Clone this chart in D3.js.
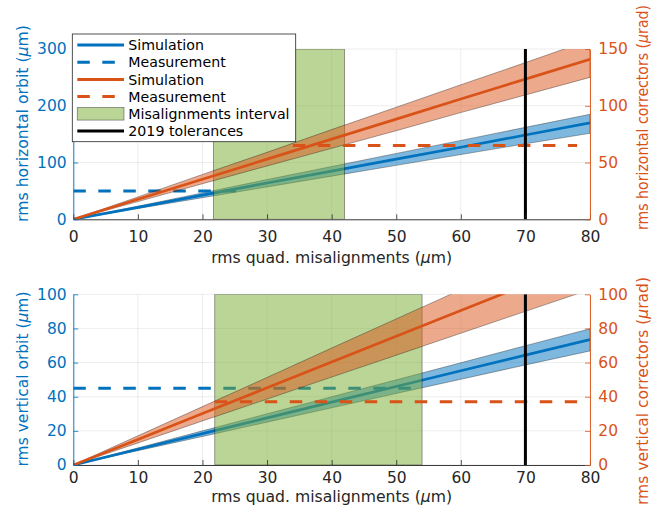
<!DOCTYPE html>
<html>
<head>
<meta charset="utf-8">
<script src="https://cdn.jsdelivr.net/npm/d3@7"></script>
<style>
  body { margin: 0; background: #fff; }
  svg text { font-family: "DejaVu Sans", sans-serif; }
</style>
</head>
<body>
<svg id="chart" width="662" height="512"></svg>
<script>
// Quadrupole misalignment levels (µm)
const misalign = [0, 10, 20, 30, 40, 50, 60, 70, 80];

// Horizontal plane: orbit (µm) and corrector strength (µrad)
const hOrbitSim  = [0, 21, 42.5, 64, 85, 106, 127, 148.5, 170];
const hOrbitLow  = [0, 19, 38, 57, 76, 95, 114, 133, 151.5];
const hOrbitHigh = [0, 23, 46.5, 70, 93, 116, 139, 162, 185];
const hCorrSim   = [0, 17.6, 35.3, 53, 70.6, 88.2, 106, 123.5, 141];
const hCorrLow   = [0, 15.6, 31.3, 47, 62.5, 78, 94, 109.5, 125];
const hCorrHigh  = [0, 19.7, 39.5, 59, 79, 98.7, 118.5, 138, 158];
const hOrbitMeas = { value: 50, from: 0, to: 26.5 };
const hCorrMeas  = { value: 65, from: 34, to: 78 };
const hInterval  = [21.7, 42];

// Vertical plane
const vOrbitSim  = [0, 9.2, 18.4, 27.6, 36.8, 46, 55.2, 64.4, 73.5];
const vOrbitLow  = [0, 8.4, 16.7, 25.1, 33.5, 41.9, 50.2, 58.6, 66.8];
const vOrbitHigh = [0, 10, 20, 30, 40, 49.9, 59.9, 69.9, 79.8];
const vCorrSim   = [0, 15, 30.1, 45.2, 60.3, 75.4, 90.5, 105.5, 120.6];
const vCorrLow   = [0, 12.9, 25.8, 38.6, 51.5, 64.3, 77.2, 90, 102.8];
const vCorrHigh  = [0, 17.1, 34.2, 51.3, 68.5, 85.6, 102.7, 119.8, 137];
const vOrbitMeas = { value: 45, from: 0, to: 52.4 };
const vCorrMeas  = { value: 37, from: 21.9, to: 78 };
const vInterval  = [21.9, 54];

// 2019 alignment tolerance (µm)
const tolerance = 70;

// Tick labels
const xTicks      = [0, 10, 20, 30, 40, 50, 60, 70, 80];
const hOrbitTicks = [0, 100, 200, 300];
const hCorrTicks  = [0, 50, 100, 150];
const vOrbitTicks = [0, 20, 40, 60, 80, 100];
const vCorrTicks  = [0, 20, 40, 60, 80, 100];

const legendLabels = ["Simulation", "Measurement", "Simulation", "Measurement",
                      "Misalignments interval", "2019 tolerances"];

const BLUE = "#0072BD", ORANGE = "#D95319", GREEN = "#77AC30", AXIS = "#262626";
const svg = d3.select("#chart");
const X0 = 73.3, X1 = 590;

function rows(lo, mid, hi) {
  return misalign.map((m, i) => ({ m, lo: lo[i], mid: mid[i], hi: hi[i] }));
}

function muLabel(sel, before, after) {
  sel.append("tspan").text(before);
  sel.append("tspan").attr("font-style", "italic").text("μ");
  sel.append("tspan").text(after);
}

const panels = [
  {
    id: "h", top: 49, bottom: 219.3,
    leftMax: 300, rightMax: 150, leftTicks: hOrbitTicks, rightTicks: hCorrTicks,
    orbit: rows(hOrbitLow, hOrbitSim, hOrbitHigh),
    corr: rows(hCorrLow, hCorrSim, hCorrHigh),
    orbitMeas: hOrbitMeas, corrMeas: hCorrMeas, interval: hInterval,
    xPad: 11.4, xLabelY: 263,
    leftLabel: ["rms horizontal orbit (", "m)"], leftLabelY: 123.5, leftLabelLen: 197,
    rightLabel: ["rms horizontal correctors (", "rad)"], rightLabelY: 117.5, rightLabelLen: 225,
    legend: true
  },
  {
    id: "v", top: 294.3, bottom: 465,
    leftMax: 100, rightMax: 100, leftTicks: vOrbitTicks, rightTicks: vCorrTicks,
    orbit: rows(vOrbitLow, vOrbitSim, vOrbitHigh),
    corr: rows(vCorrLow, vCorrSim, vCorrHigh),
    orbitMeas: vOrbitMeas, corrMeas: vCorrMeas, interval: vInterval,
    xPad: 7.3, xLabelY: 502,
    leftLabel: ["rms vertical orbit (", "m)"], leftLabelY: 379, leftLabelLen: 175,
    rightLabel: ["rms vertical correctors (", "rad)"], rightLabelY: 391, rightLabelLen: 228,
    legend: false
  }
];

panels.forEach(p => {
  const x = d3.scaleLinear([0, 80], [X0, X1]);
  const yL = d3.scaleLinear([0, p.leftMax], [p.bottom, p.top]);
  const yR = d3.scaleLinear([0, p.rightMax], [p.bottom, p.top]);
  const g = svg.append("g");

  g.append("clipPath").attr("id", "clip-" + p.id)
    .append("rect").attr("x", X0).attr("y", p.top)
    .attr("width", X1 - X0).attr("height", p.bottom - p.top);

  // Grid
  const grid = g.append("g").attr("stroke", "#000").attr("stroke-opacity", 0.12).attr("stroke-width", 0.6);
  grid.selectAll("line.gx").data(xTicks).join("line")
    .attr("x1", d => x(d)).attr("x2", d => x(d)).attr("y1", p.top).attr("y2", p.bottom);
  grid.selectAll("line.gy").data(p.leftTicks).join("line")
    .attr("x1", X0).attr("x2", X1).attr("y1", d => yL(d)).attr("y2", d => yL(d));

  const plot = g.append("g").attr("clip-path", `url(#clip-${p.id})`);

  const band = (y) => d3.area().x(d => x(d.m)).y0(d => y(d.lo)).y1(d => y(d.hi));
  const mid = (y) => d3.line().x(d => x(d.m)).y(d => y(d.mid));

  // Left axis layer: orbit
  plot.append("path").datum(p.orbit).attr("d", band(yL))
    .attr("fill", BLUE).attr("fill-opacity", 0.5)
    .attr("stroke", "#000").attr("stroke-opacity", 0.55).attr("stroke-width", 0.6);
  plot.append("path").datum(p.orbit).attr("d", mid(yL))
    .attr("fill", "none").attr("stroke", BLUE).attr("stroke-width", 2.7);
  plot.append("line")
    .attr("x1", x(p.orbitMeas.from)).attr("x2", x(p.orbitMeas.to))
    .attr("y1", yL(p.orbitMeas.value)).attr("y2", yL(p.orbitMeas.value))
    .attr("stroke", BLUE).attr("stroke-width", 3).attr("stroke-dasharray", "12.5,12.5");
  plot.append("rect")
    .attr("x", x(p.interval[0])).attr("width", x(p.interval[1]) - x(p.interval[0]))
    .attr("y", yL(p.leftMax)).attr("height", yL(0) - yL(p.leftMax))
    .attr("fill", GREEN).attr("fill-opacity", 0.5)
    .attr("stroke", "#000").attr("stroke-opacity", 0.45).attr("stroke-width", 0.8);

  // Right axis layer: correctors
  plot.append("path").datum(p.corr).attr("d", band(yR))
    .attr("fill", ORANGE).attr("fill-opacity", 0.5)
    .attr("stroke", "#000").attr("stroke-opacity", 0.55).attr("stroke-width", 0.6);
  plot.append("path").datum(p.corr).attr("d", mid(yR))
    .attr("fill", "none").attr("stroke", ORANGE).attr("stroke-width", 2.7);
  plot.append("line")
    .attr("x1", x(p.corrMeas.from)).attr("x2", x(p.corrMeas.to))
    .attr("y1", yR(p.corrMeas.value)).attr("y2", yR(p.corrMeas.value))
    .attr("stroke", ORANGE).attr("stroke-width", 3).attr("stroke-dasharray", "12.5,12.5");
  plot.append("line")
    .attr("x1", x(tolerance)).attr("x2", x(tolerance))
    .attr("y1", p.bottom).attr("y2", p.top)
    .attr("stroke", "#000").attr("stroke-width", 3);

  // Axes
  const styleAxis = (sel, color) => {
    sel.select(".domain").attr("stroke", color).attr("stroke-width", 0.9);
    sel.selectAll(".tick line").attr("stroke", color).attr("stroke-width", 0.8);
    sel.selectAll(".tick text").attr("fill", color).style("font-size", "15.5px");
  };
  g.append("g").attr("transform", `translate(0,${p.bottom})`)
    .call(d3.axisBottom(x).tickValues(xTicks).tickSize(-5).tickSizeOuter(0).tickPadding(p.xPad))
    .call(s => styleAxis(s, AXIS));
  g.append("g").attr("transform", `translate(${X0},0)`)
    .call(d3.axisLeft(yL).tickValues(p.leftTicks).tickSize(-5).tickSizeOuter(0).tickPadding(6.6))
    .call(s => styleAxis(s, BLUE));
  g.append("g").attr("transform", `translate(${X1},0)`)
    .call(d3.axisRight(yR).tickValues(p.rightTicks).tickSize(-5).tickSizeOuter(0).tickPadding(8.3))
    .call(s => styleAxis(s, ORANGE));

  // Axis titles
  g.append("text").attr("x", (X0 + X1) / 2).attr("y", p.xLabelY)
    .attr("text-anchor", "middle").attr("fill", AXIS).style("font-size", "15.5px")
    .attr("textLength", 241).attr("lengthAdjust", "spacingAndGlyphs")
    .call(s => muLabel(s, "rms quad. misalignments (", "m)"));
  g.append("text").attr("transform", `translate(28,${p.leftLabelY}) rotate(-90)`)
    .attr("text-anchor", "middle").attr("fill", BLUE).style("font-size", "15.5px")
    .attr("textLength", p.leftLabelLen).attr("lengthAdjust", "spacingAndGlyphs")
    .call(s => muLabel(s, p.leftLabel[0], p.leftLabel[1]));
  g.append("text").attr("transform", `translate(648,${p.rightLabelY}) rotate(-90)`)
    .attr("text-anchor", "middle").attr("fill", ORANGE).style("font-size", "15.5px")
    .attr("textLength", p.rightLabelLen).attr("lengthAdjust", "spacingAndGlyphs")
    .call(s => muLabel(s, p.rightLabel[0], p.rightLabel[1]));

  // Legend
  if (p.legend) {
    const lg = svg.append("g");
    lg.append("rect").attr("x", 72.3).attr("y", 34).attr("width", 223.4).attr("height", 107.7)
      .attr("fill", "#fff").attr("stroke", AXIS).attr("stroke-width", 0.8);
    const rowY = i => 45 + i * 17.2;
    const sx0 = 77.3, sx1 = 124;
    const samples = [
      { type: "line", color: BLUE, dash: null },
      { type: "line", color: BLUE, dash: "12.5,12.5" },
      { type: "line", color: ORANGE, dash: null },
      { type: "line", color: ORANGE, dash: "12.5,12.5" },
      { type: "patch", color: GREEN },
      { type: "line", color: "#000", dash: null }
    ];
    samples.forEach((s, i) => {
      if (s.type === "patch") {
        lg.append("rect").attr("x", sx0).attr("y", rowY(i) - 6.3).attr("width", sx1 - sx0).attr("height", 12.6)
          .attr("fill", GREEN).attr("fill-opacity", 0.5)
          .attr("stroke", "#000").attr("stroke-opacity", 0.45).attr("stroke-width", 0.8);
      } else {
        lg.append("line").attr("x1", sx0).attr("x2", sx1).attr("y1", rowY(i)).attr("y2", rowY(i))
          .attr("stroke", s.color).attr("stroke-width", 3)
          .attr("stroke-dasharray", s.dash);
      }
      lg.append("text").attr("x", 128.3).attr("y", rowY(i)).attr("dy", "0.36em")
        .attr("fill", "#000").style("font-size", "14.2px").text(legendLabels[i]);
    });
  }
});
</script>
</body>
</html>
